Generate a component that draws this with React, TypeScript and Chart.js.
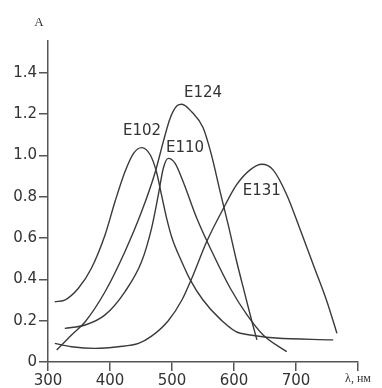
import React, { useEffect, useRef } from "react";
import { Chart, registerables } from "chart.js";

Chart.register(...registerables);

// Data (wavelength, nm / absorbance)
const e102Wl = [311, 327, 349, 370, 392, 408, 424, 438, 451, 465, 475, 483, 491, 500, 515, 529, 550, 577, 610, 760];
const e102A = [0.292, 0.3, 0.357, 0.454, 0.615, 0.776, 0.92, 1.01, 1.038, 1.002, 0.92, 0.81, 0.7, 0.6, 0.49, 0.4, 0.3, 0.21, 0.139, 0.107];

const e110Wl = [327, 360, 392, 424, 451, 467, 478, 486, 494, 505, 518, 540, 567, 594, 621, 647, 685];
const e110A = [0.163, 0.179, 0.228, 0.34, 0.486, 0.647, 0.81, 0.938, 0.986, 0.962, 0.873, 0.696, 0.518, 0.357, 0.228, 0.131, 0.05];

const e124Wl = [314, 338, 360, 392, 424, 451, 473, 486, 497, 508, 516, 532, 550, 563, 578, 591, 604, 618, 629, 637];
const e124A = [0.058, 0.131, 0.195, 0.34, 0.534, 0.728, 0.92, 1.067, 1.18, 1.24, 1.248, 1.21, 1.135, 1.01, 0.82, 0.66, 0.49, 0.324, 0.195, 0.107];

const e131Wl = [311, 338, 376, 413, 446, 467, 494, 516, 534, 556, 583, 604, 626, 645, 663, 685, 706, 728, 750, 766];
const e131A = [0.09, 0.074, 0.066, 0.074, 0.09, 0.125, 0.2, 0.3, 0.42, 0.583, 0.744, 0.857, 0.93, 0.957, 0.93, 0.81, 0.647, 0.47, 0.292, 0.139];

const seriesNames = ["E102", "E110", "E124", "E131"];
const labelWl = [451.6, 521, 550, 644.7];
const labelA = [1.119, 1.036, 1.303, 0.825];

const xTicks = [300, 400, 500, 600, 700, 800];
const yTicks = [0, 0.2, 0.4, 0.6, 0.8, 1.0, 1.2, 1.4];
const xUnit = "λ, нм";
const yUnit = "A";

const toPts = (xs: number[], ys: number[]) => xs.map((x, i) => ({ x, y: ys[i] }));

export default function App() {
  const ref = useRef<HTMLCanvasElement | null>(null);

  useEffect(() => {
    document.body.style.margin = "0";
    const canvas = ref.current;
    if (!canvas) return;
    const lineColor = "#3a3a3a";
    const mk = (xs: number[], ys: number[]) => ({
      data: toPts(xs, ys),
      borderColor: lineColor,
      borderWidth: 1.4,
      pointRadius: 0,
      fill: false,
      cubicInterpolationMode: "monotone" as const,
    });

    const labelsPlugin = {
      id: "curveLabels",
      afterDraw(chart: any) {
        const { ctx, scales } = chart;
        const xs = scales.x;
        const ys = scales.y;
        ctx.save();
        ctx.fillStyle = "#333";
        ctx.font = "15px 'DejaVu Sans'";
        ctx.textAlign = "center";
        ctx.textBaseline = "middle";
        seriesNames.forEach((n, i) => {
          ctx.fillText(n, xs.getPixelForValue(labelWl[i]), ys.getPixelForValue(labelA[i]));
        });
        ctx.font = "13px 'Liberation Serif'";
        ctx.fillText(yUnit, xs.left - 9, chart.chartArea.top - 18);
        ctx.restore();
      },
    };

    const chart = new Chart(canvas, {
      type: "line",
      data: {
        datasets: [mk(e102Wl, e102A), mk(e110Wl, e110A), mk(e124Wl, e124A), mk(e131Wl, e131A)],
      },
      options: {
        responsive: false,
        animation: false,
        layout: { padding: { left: 0, right: 24, top: 41, bottom: 0 } },
        plugins: { legend: { display: false }, tooltip: { enabled: false } },
        scales: {
          x: {
            type: "linear",
            min: 300,
            max: 800,
            afterBuildTicks: (s: any) => {
              s.ticks = xTicks.map((v) => ({ value: v }));
            },
            afterFit: (s: any) => {
              s.height = 26;
            },
            grid: { drawOnChartArea: false, drawTicks: true, tickLength: 9, color: "#555", lineWidth: 1.5 },
            border: { display: true, color: "#555", width: 1.5 },
            ticks: {
              autoSkip: false,
              maxRotation: 0,
              padding: 1,
              color: "#333",
              callback: (v: any) => (v === 800 ? xUnit : String(v)),
              font: (c: any) =>
                c.tick && c.tick.value === 800
                  ? { family: "'Liberation Serif'", size: 12 }
                  : { family: "'DejaVu Sans'", size: 15 },
            },
          },
          y: {
            type: "linear",
            min: 0,
            max: 1.554,
            afterBuildTicks: (s: any) => {
              s.ticks = yTicks.map((v) => ({ value: v }));
            },
            afterFit: (s: any) => {
              s.width = 48;
            },
            grid: { drawOnChartArea: false, drawTicks: true, tickLength: 9, color: "#555", lineWidth: 1.5 },
            border: { display: true, color: "#555", width: 1.5 },
            ticks: {
              autoSkip: false,
              padding: 2,
              color: "#333",
              font: { family: "'DejaVu Sans'", size: 15 },
              callback: (v: any) => (v === 0 ? "0" : Number(v).toFixed(1)),
            },
          },
        },
      },
      plugins: [labelsPlugin],
    });
    return () => chart.destroy();
  }, []);

  return <canvas ref={ref} width={382} height={388} style={{ display: "block" }} />;
}
